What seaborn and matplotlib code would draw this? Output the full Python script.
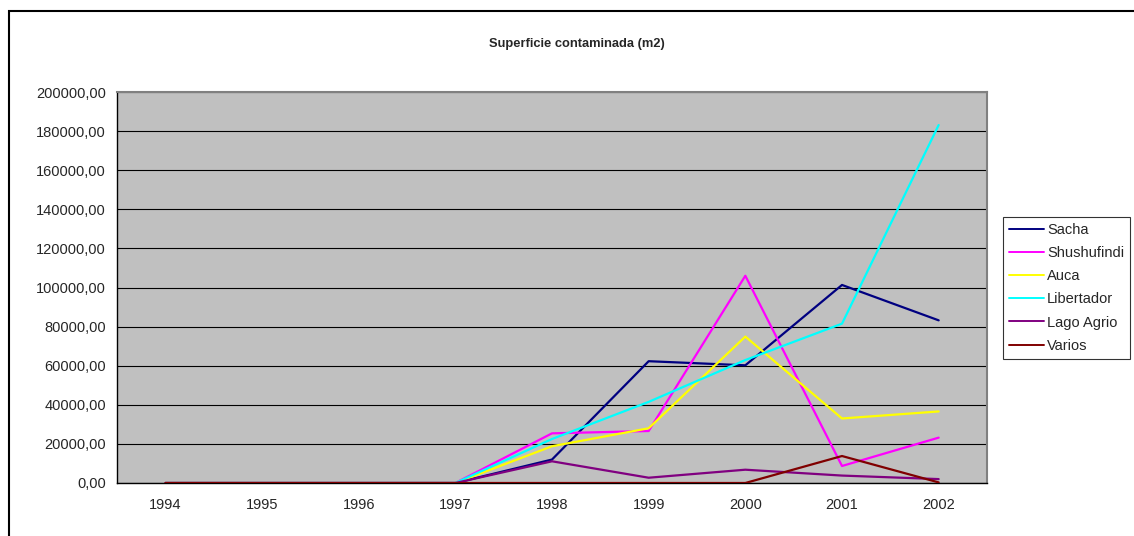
import pandas as pd
import matplotlib.pyplot as plt
import seaborn as sns
from matplotlib.ticker import FuncFormatter, FixedLocator
from matplotlib.patches import Rectangle

# Data (m2 per year)
years = [1994, 1995, 1996, 1997, 1998, 1999, 2000, 2001, 2002]
sacha = [0, 0, 0, 0, 12000, 62300, 60200, 101300, 83200]
shushufindi = [0, 0, 0, 0, 25400, 26600, 106000, 8700, 23200]
auca = [0, 0, 0, 0, 18800, 28000, 74900, 33000, 36600]
libertador = [0, 0, 0, 0, 22500, 41500, 62900, 81500, 183100]
lago_agrio = [0, 0, 0, 0, 11100, 2700, 6800, 3800, 2000]
varios = [0, 0, 0, 0, 0, 0, 0, 13800, 300]

series_names = ['Sacha', 'Shushufindi', 'Auca', 'Libertador', 'Lago Agrio', 'Varios']
series_values = [sacha, shushufindi, auca, libertador, lago_agrio, varios]
colors = ['#000080', '#FF00FF', '#FFFF00', '#00FFFF', '#800080', '#800000']

# Build long-form table for seaborn
rows = []
for name, vals in zip(series_names, series_values):
    for y, v in zip(years, vals):
        rows.append({'year': y, 'area': v, 'campo': name})
df = pd.DataFrame(rows)

sns.set_style('white')
plt.rcParams['font.family'] = ['Liberation Sans', 'DejaVu Sans']

fig = plt.figure(figsize=(11.34, 5.36), dpi=100)
ax = fig.add_axes([117 / 1134, 1 - 483 / 536, 870 / 1134, 391 / 536])
ax.set_facecolor('#C0C0C0')

sns.lineplot(data=df, x='year', y='area', hue='campo', hue_order=series_names,
             palette=dict(zip(series_names, colors)), linewidth=1.6,
             ax=ax, legend=False, zorder=3)

ax.set_xlim(years[0] - 0.5, years[-1] + 0.5)
ax.set_ylim(0, 200000)
ax.set_xlabel('')
ax.set_ylabel('')

# y axis: ticks every 20000, formatted with comma decimals
ax.set_yticks(range(0, 200001, 20000))
ax.yaxis.set_major_formatter(FuncFormatter(lambda v, p: f"{v:.2f}".replace('.', ',')))
ax.grid(axis='y', color='black', linewidth=0.8, zorder=1)
ax.set_axisbelow(True)

# x axis: tick marks between categories, labels at centers
ax.xaxis.set_major_locator(FixedLocator([y - 0.5 for y in years] + [years[-1] + 0.5]))
ax.xaxis.set_major_formatter(FuncFormatter(lambda v, p: ''))
ax.xaxis.set_minor_locator(FixedLocator(years))
ax.xaxis.set_minor_formatter(FuncFormatter(lambda v, p: str(int(round(v)))))
ax.tick_params(axis='x', which='major', direction='out', length=5, width=1, color='black')
ax.tick_params(axis='x', which='minor', length=0, pad=11, labelsize=10.5)
ax.tick_params(axis='y', direction='out', length=5, width=1, color='black', labelsize=10.5, pad=3)

for side in ['left', 'bottom']:
    ax.spines[side].set_color('black')
    ax.spines[side].set_linewidth(1)
for side in ['top', 'right']:
    ax.spines[side].set_color('#808080')
    ax.spines[side].set_linewidth(1.5)

fig.text(577 / 1134, 1 - 44 / 536, 'Superficie contaminada (m2)', ha='center', va='center',
         fontsize=9.3, fontweight='bold')

# legend box to the right of the plot
handles = [plt.Line2D([0], [0], color=c, linewidth=1.4) for c in colors]
leg = fig.legend(handles, series_names, loc='upper left',
                 bbox_to_anchor=(1003 / 1134, 1 - 217 / 536),
                 frameon=True, fancybox=False, edgecolor='black', fontsize=10.5,
                 handlelength=2.4, handletextpad=0.22, labelspacing=0.63,
                 borderpad=0.4, borderaxespad=0)
leg.get_frame().set_linewidth(0.8)

# outer chart border (right/bottom fall outside the image)
fig.patches.append(Rectangle((9 / 1134, -0.1), 1.2, 1 - 11 / 536 + 0.1,
                             transform=fig.transFigure, fill=False,
                             edgecolor='black', linewidth=1.5))

fig.savefig('out.png', dpi=100)
